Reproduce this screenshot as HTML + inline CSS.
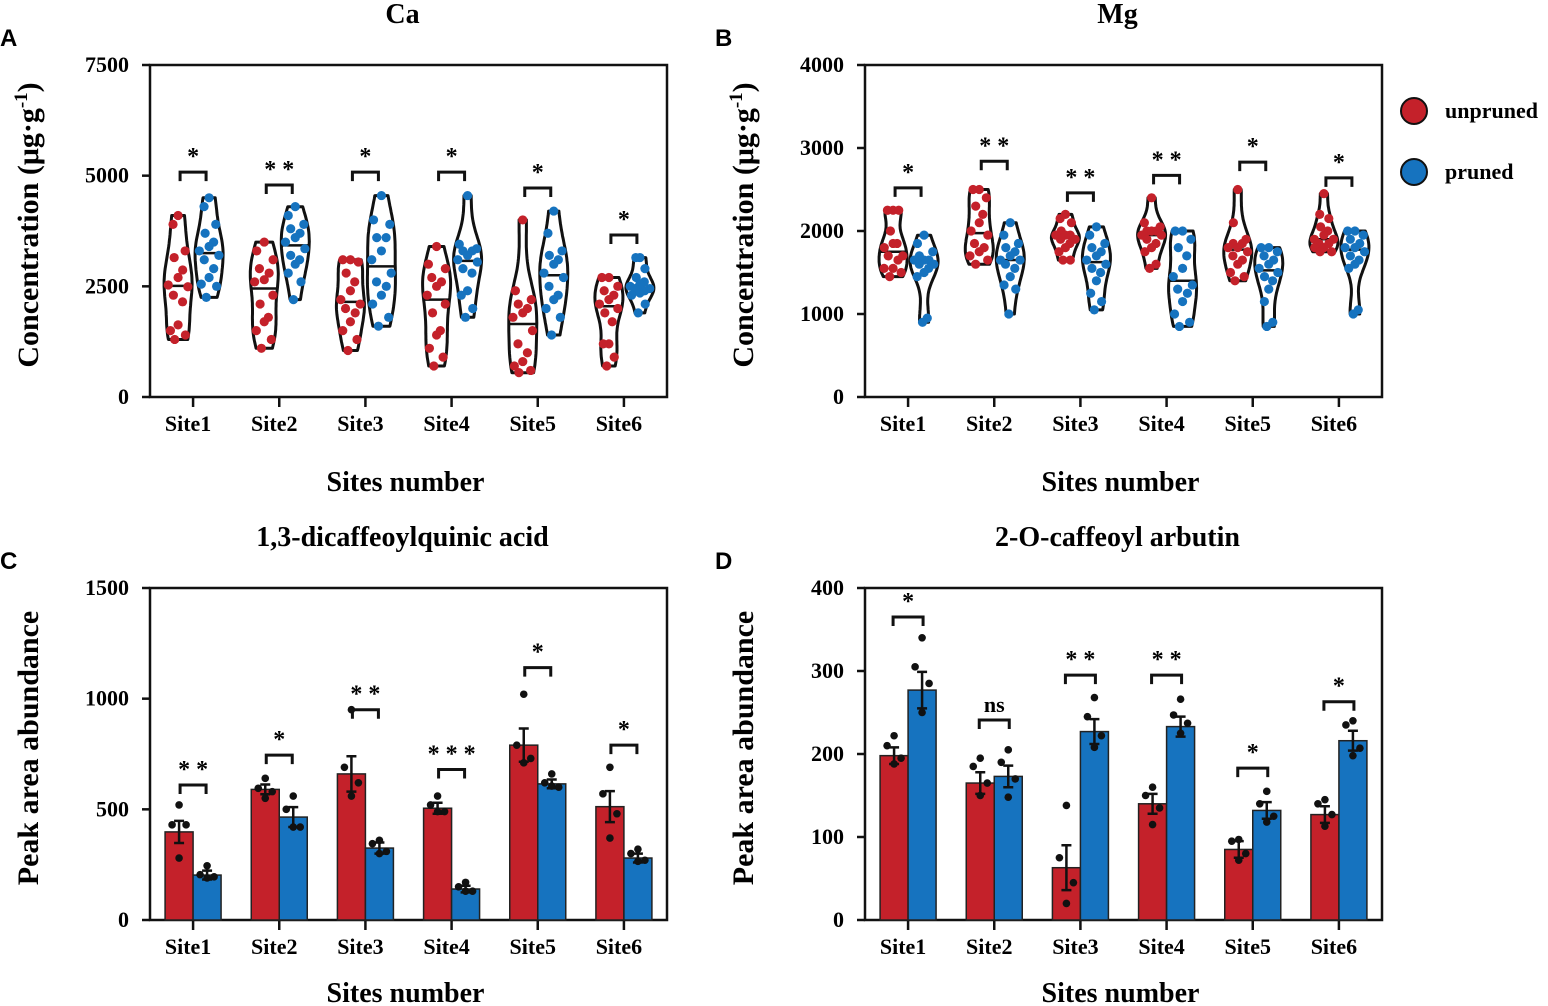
<!DOCTYPE html>
<html><head><meta charset="utf-8">
<style>
html,body{margin:0;padding:0;background:#fff;}
svg{display:block;font-family:"Liberation Serif",serif;}
</style></head>
<body>
<svg id="fig" width="1548" height="1006" viewBox="0 0 1548 1006" xmlns="http://www.w3.org/2000/svg"></svg>
<script>
const sites = ["Site1","Site2","Site3","Site4","Site5","Site6"];
// Panel A: Ca (violin)
const caUnpruned = [
 [4100,3900,3300,3150,2870,2700,2530,2490,2300,2150,1630,1500,1400,1300],
 [3500,3300,3100,2900,2800,2650,2600,2300,2100,1800,1700,1500,1300,1100],
 [3100,3100,3050,2800,2600,2400,2200,2100,2000,1900,1700,1500,1300,1050],
 [3400,3000,2900,2700,2600,2500,2300,2100,1900,1500,1400,1100,900,700],
 [4000,2400,2200,2100,2000,1900,1800,1500,1200,1000,800,700,600,550],
 [2700,2700,2500,2400,2300,2200,2100,2000,1900,1700,1200,1200,900,700]];
const caPruned = [
 [4500,4300,3900,3700,3500,3400,3300,3200,3100,2900,2700,2550,2500,2250],
 [4300,4100,3900,3800,3700,3600,3500,3350,3200,3100,3000,2800,2600,2200],
 [4550,4000,3900,3600,3600,3300,3100,2800,2600,2500,2300,2100,1800,1600],
 [4550,3450,3350,3300,3300,3200,3100,3050,2900,2800,2400,2300,2000,1800],
 [4200,3700,3300,3200,3100,3000,2800,2700,2500,2300,2200,2000,1800,1400],
 [3150,3150,2900,2700,2600,2550,2500,2450,2450,2400,2350,2300,2100,1900]];
const caSig = ["*","**","*","*","*","*"];
const caBracket = [5080,4790,5080,5080,4720,3660];
const caTicks = [0,2500,5000,7500];
// Panel B: Mg (violin)
const mgUnpruned = [
 [2250,2250,2250,2000,1850,1850,1800,1700,1700,1650,1550,1550,1500,1450],
 [2500,2500,2400,2300,2200,2100,2000,1950,1850,1800,1750,1700,1650,1600],
 [2200,2150,2100,2000,1950,1950,1950,1900,1900,1850,1800,1750,1650,1650],
 [2400,2100,2050,2000,2000,2000,1950,1950,1900,1850,1800,1750,1600,1550],
 [2500,2100,1900,1850,1850,1800,1800,1750,1700,1650,1600,1500,1450,1400],
 [2450,2200,2150,2050,2000,1950,1900,1900,1850,1850,1800,1800,1750,1750]];
const mgPruned = [
 [1950,1850,1750,1700,1650,1650,1650,1600,1600,1550,1500,1450,950,900],
 [2100,1950,1850,1800,1750,1700,1650,1650,1600,1550,1450,1350,1300,1000],
 [2050,1950,1850,1800,1750,1700,1650,1600,1550,1500,1400,1250,1150,1050],
 [2000,2000,1900,1800,1700,1550,1450,1350,1300,1250,1150,1000,900,850],
 [1800,1800,1750,1700,1650,1600,1550,1500,1450,1400,1300,1150,900,850],
 [2000,2000,1950,1900,1850,1800,1800,1750,1700,1650,1600,1550,1050,1000]];
const mgSig = ["*","**","**","**","*","*"];
const mgBracket = [2520,2840,2460,2670,2830,2640];
const mgTicks = [0,1000,2000,3000,4000];
// Panel C: 1,3-dicaffeoylquinic acid (bars)
const dcqMeanU = [398,590,660,505,790,512];
const dcqMeanP = [203,465,325,140,615,280];
const dcqErrU = [50,22,80,25,75,70];
const dcqErrP = [20,45,25,15,20,20];
const dcqPtsU = [[520,430,430,280],[640,595,580,550],[950,690,620,560],[560,520,490,490],[1020,790,730,710],[690,570,480,370]];
const dcqPtsP = [[245,205,195,190],[560,500,420,420],[360,345,310,300],[170,150,130,130],[660,620,600,605],[320,300,270,265]];
const dcqSig = ["**","*","**","***","*","*"];
const dcqBracket = [610,745,950,680,1140,790];
const dcqTicks = [0,500,1000,1500];
// Panel D: 2-O-caffeoyl arbutin (bars)
const caMeanU = [198,165,63,140,85,127];
const caMeanP = [277,173,227,233,132,216];
const caErrU = [10,13,27,12,10,10];
const caErrP = [22,13,15,12,10,12];
const caPtsU = [[222,210,195,188],[195,185,165,150],[138,75,45,20],[160,150,135,115],[97,95,80,72],[145,140,127,113]];
const caPtsP = [[340,305,285,250],[205,190,170,148],[268,245,222,208],[266,247,237,225],[155,140,125,118],[240,235,207,198]];
const caSig2 = ["*","ns","**","**","*","*"];
const caBracket2 = [365,241,295,295,183,263];
const arbTicks = [0,100,200,300,400];

const RED="#c4212a", BLUE="#1673bf";
const svg=document.getElementById('fig');
const NS="http://www.w3.org/2000/svg";
function mk(tag,attrs,parent){const e=document.createElementNS(NS,tag);for(const k in attrs)e.setAttribute(k,attrs[k]);(parent||svg).appendChild(e);return e;}
function txt(s,x,y,size,anchor,parent,extra){const t=mk('text',Object.assign({x:x,y:y,'font-size':size,'font-weight':'bold','text-anchor':anchor||'middle'},extra||{}),parent);t.textContent=s;return t;}

function makePanel(P){
  const g=mk('g',{});
  
  
  const yS=v=>P.y1-(v/P.max)*(P.y1-P.y0);
  const xS=i=>P.x0+(i+0.5)*(P.x1-P.x0)/6;
  const fr=mk('rect',{x:P.x0,y:P.y0,width:P.x1-P.x0,height:P.y1-P.y0,fill:'none',stroke:'#111','stroke-width':2.5},g);
  
  
  P.ticks.forEach(v=>{
    const y=yS(v);
    const l=mk('line',{x1:P.x0-8,x2:P.x0,y1:y,y2:y,stroke:'#111','stroke-width':2.5},g);
    
    
    const t=txt(String(v),P.x0-21,y+7,22,'end',g);
    
    
  });
  sites.forEach((s,i)=>{
    const x=xS(i);
    const l=mk('line',{x1:x,x2:x,y1:P.y1,y2:P.y1+10,stroke:'#111','stroke-width':2.5},g);
    
    
    const t=txt(s,x-5,P.y1+34,22,'middle',g);
    
    
  });
  const tt=txt(P.title,(P.x0+P.x1)/2-6,P.y0-42,28,'middle',g);
  
  
  const xt=txt('Sites number',(P.x0+P.x1)/2-3,P.y1+P.xtOff,28,'middle',g);
  
  
  const cy=(P.y0+P.y1)/2;
  const yt=txt('',0,0,30,'middle',g,{transform:'translate('+(P.x0-112)+','+(cy-6)+') rotate(-90)'});
  
  
  if(P.unit){yt.textContent='Concentration (μg·g';const sp=mk('tspan',{dy:-11,'font-size':19},yt);sp.textContent='-1';const sp2=mk('tspan',{dy:11},yt);sp2.textContent=')';}
  else yt.textContent='Peak area abundance';
  const lt=mk('text',{x:P.x0-150,y:P.y0-19,'font-size':24,'font-weight':'bold','font-family':'Liberation Sans, sans-serif'},g);
  lt.textContent=P.letter;
  
  
  return {g,yS,xS};
}

function sigBracket(g,xS,yS,i,val,label,half){
  const x=xS(i), y=yS(val);
  const b=mk('path',{d:'M'+(x-half)+','+(y+9)+'V'+y+'H'+(x+half)+'V'+(y+9),fill:'none',stroke:'#111','stroke-width':3},g);
  
  
  const t=txt(label==='ns'?'ns':label.split('').join(' '),x,y-8,label==='ns'?22:24,'middle',g);
  
  
}

function violin(g,xc,vals,yS,color){
  const mn=Math.min(...vals), mx=Math.max(...vals);
  const range=mx-mn||1, bw=range*0.16;
  const N=40, dens=[];
  for(let k=0;k<=N;k++){const v=mn+range*k/N;let d=0;vals.forEach(u=>{d+=Math.exp(-0.5*((v-u)/bw)**2);});dens.push([v,d]);}
  const dm=Math.max(...dens.map(d=>d[1]));
  const W=14, wOf=v=>{let d=0;vals.forEach(u=>{d+=Math.exp(-0.5*((v-u)/bw)**2);});return 2+(W-2)*d/dm;};
  let p='';
  dens.forEach((d,k)=>{p+=(k?'L':'M')+(xc-wOf(d[0])).toFixed(1)+','+yS(d[0]).toFixed(1);});
  for(let k=N;k>=0;k--){p+='L'+(xc+wOf(dens[k][0])).toFixed(1)+','+yS(dens[k][0]).toFixed(1);}
  p+='Z';
  const v=mk('path',{d:p,fill:'#fff',stroke:'#111','stroke-width':3,'stroke-linejoin':'round'},g);
  
  
  const s=[...vals].sort((a,b)=>a-b), med=(s[6]+s[7])/2;
  const ml=mk('line',{x1:xc-wOf(med),x2:xc+wOf(med),y1:yS(med),y2:yS(med),stroke:'#111','stroke-width':2.5},g);
  
  
  const offs=[0,-0.7,0.7,-0.35,0.35];
  vals.forEach((u,k)=>{
    const c=mk('circle',{cx:xc+offs[k%5]*wOf(u),cy:yS(u),r:4.6,fill:color},g);
    
    
  });
}

function barPanel(P,mU,mP,eU,eP,pU,pP,sig,br,half){
  const {g,yS,xS}=makePanel(P);
  sites.forEach((s,i)=>{
    const x=xS(i);
    [[mU,eU,pU,RED,-28],[mP,eP,pP,BLUE,0]].forEach(([m,e,pts,col,off])=>{
      const b=mk('rect',{x:x+off,y:yS(m[i]),width:28,height:yS(0)-yS(m[i]),fill:col,stroke:'#222','stroke-width':1.5},g);
      
      
      const cx=x+off+14;
      const eb=mk('path',{d:'M'+cx+','+yS(m[i]-e[i])+'V'+yS(m[i]+e[i])+'M'+(cx-5)+','+yS(m[i]+e[i])+'H'+(cx+5)+'M'+(cx-5)+','+yS(m[i]-e[i])+'H'+(cx+5),stroke:'#111','stroke-width':2.5,fill:'none'},g);
      
      
      const po=[0,-7,7,0];
      pts[i].forEach((u,k)=>{
        const c=mk('circle',{cx:cx+po[k],cy:yS(u),r:3.8,fill:'#111'},g);
        
        
      });
    });
    sigBracket(g,xS,yS,i,br[i],sig[i],half);
  });
}

function violinPanel(P,U,Pr,sig,br){
  const {g,yS,xS}=makePanel(P);
  sites.forEach((s,i)=>{
    violin(g,xS(i)-15,U[i],yS,RED);
    violin(g,xS(i)+16,Pr[i],yS,BLUE);
    sigBracket(g,xS,yS,i,br[i],sig[i],13);
  });
}

violinPanel({name:'panel-a-ca',title:'Ca',letter:'A',x0:150,x1:667,y0:65,y1:397,max:7500,ticks:caTicks,unit:true,xtOff:94},caUnpruned,caPruned,caSig,caBracket);
violinPanel({name:'panel-b-mg',title:'Mg',letter:'B',x0:865,x1:1382,y0:65,y1:397,max:4000,ticks:mgTicks,unit:true,xtOff:94},mgUnpruned,mgPruned,mgSig,mgBracket);
barPanel({name:'panel-c-dicaffeoylquinic',title:'1,3-dicaffeoylquinic acid',letter:'C',x0:150,x1:667,y0:588,y1:920,max:1500,ticks:dcqTicks,xtOff:82},dcqMeanU,dcqMeanP,dcqErrU,dcqErrP,dcqPtsU,dcqPtsP,dcqSig,dcqBracket,13);
barPanel({name:'panel-d-caffeoyl-arbutin',title:'2-O-caffeoyl arbutin',letter:'D',x0:865,x1:1382,y0:588,y1:920,max:400,ticks:arbTicks,xtOff:82},caMeanU,caMeanP,caErrU,caErrP,caPtsU,caPtsP,caSig2,caBracket2,15);

const lg=mk('g',{});


[['unpruned',RED,111],['pruned',BLUE,172]].forEach(([n,c,y])=>{
  const e=mk('g',{},lg);
  
  
  mk('circle',{cx:1414,cy:y,r:13,fill:c,stroke:'#111','stroke-width':2},e);
  txt(n,1445,y+7,22,'start',e);
});
</script>
</body></html>
